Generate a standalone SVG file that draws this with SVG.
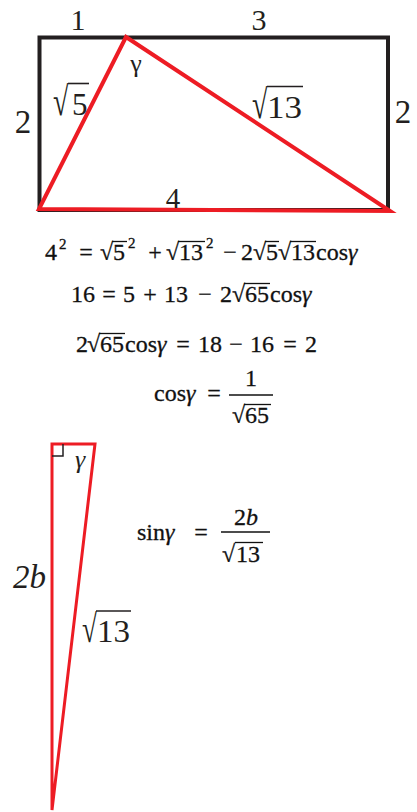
<svg xmlns="http://www.w3.org/2000/svg" width="417" height="812" viewBox="0 0 417 812">
<style>
.lbl{fill:#231f20}
.eq{font-size:24px;fill:#111;stroke:#111;stroke-width:0.3}
.sup{font-size:15px}
.it{font-style:italic}
.ov{stroke:#111;stroke-width:1.3}
.ovl{stroke:#231f20;stroke-width:1.6}
.red{fill:none;stroke:#ed1c24;stroke-linejoin:miter}
</style>
<rect width="417" height="812" fill="#fff"/>
<g id="rectangle">
<rect x="39.5" y="37.5" width="348.5" height="172.5" fill="none" stroke="#231f20" stroke-width="4"/>
</g>
<g id="triangle1">
<polygon class="red" points="126,37 39,209 390,211" stroke-width="4"/>
</g>
<g id="labels1" class="lbl" font-family="Liberation Serif, Times New Roman, serif">
<text x="78" y="30" font-size="30" text-anchor="middle">1</text>
<text x="259" y="30" font-size="30" text-anchor="middle">3</text>
<text x="23" y="133" font-size="33" text-anchor="middle">2</text>
<text x="403" y="123" font-size="33" text-anchor="middle">2</text>
<text x="136" y="72" font-size="26" text-anchor="middle">γ</text>
<text x="173" y="208" font-size="29" text-anchor="middle">4</text>
<text transform="translate(53,115) scale(1,1.45)" font-size="28">√</text>
<text x="72" y="115" font-size="31">5</text>
<line class="ovl" x1="68" y1="83.5" x2="89" y2="83.5"/>
<text transform="translate(252,118) scale(1,1.45)" font-size="28">√</text>
<text x="267" y="118" font-size="31" textLength="35" lengthAdjust="spacingAndGlyphs">13</text>
<line class="ovl" x1="267" y1="86.5" x2="303" y2="86.5"/>
</g>
<g id="eq1" class="eq" font-family="Liberation Serif, Times New Roman, serif">
<text x="45" y="260">4</text><text class="sup" x="59" y="249">2</text>
<text x="86" y="260" text-anchor="middle">=</text>
<text x="100" y="260">√</text><text x="113" y="260">5</text>
<line class="ov" x1="112" y1="241.5" x2="127" y2="241.5"/>
<text class="sup" x="128" y="248">2</text>
<text x="155" y="260" text-anchor="middle">+</text>
<text x="166" y="260">√</text><text x="179" y="260">13</text>
<line class="ov" x1="178" y1="241.5" x2="205" y2="241.5"/>
<text class="sup" x="206" y="248">2</text>
<text x="230" y="260" text-anchor="middle">−</text>
<text x="241" y="260">2</text>
<text x="253" y="260">√</text><text x="266" y="260">5</text>
<line class="ov" x1="265" y1="241.5" x2="279" y2="241.5"/>
<text x="278" y="260">√</text><text x="291" y="260">13</text>
<line class="ov" x1="290" y1="241.5" x2="316" y2="241.5"/>
<text x="316" y="260">cos<tspan class="it">γ</tspan></text>
</g>
<g id="eq2" class="eq" font-family="Liberation Serif, Times New Roman, serif">
<text x="71" y="302">16</text>
<text x="109" y="302" text-anchor="middle">=</text>
<text x="123" y="302">5</text>
<text x="150" y="302" text-anchor="middle">+</text>
<text x="164" y="302">13</text>
<text x="205" y="302" text-anchor="middle">−</text>
<text x="220" y="302">2</text>
<text x="232" y="302">√</text><text x="245" y="302">65</text>
<line class="ov" x1="244" y1="283.5" x2="270" y2="283.5"/>
<text x="270" y="302">cos<tspan class="it">γ</tspan></text>
</g>
<g id="eq3" class="eq" font-family="Liberation Serif, Times New Roman, serif">
<text x="76" y="352">2</text>
<text x="87" y="352">√</text><text x="100" y="352">65</text>
<line class="ov" x1="99" y1="333.5" x2="125" y2="333.5"/>
<text x="125" y="352">cos<tspan class="it">γ</tspan></text>
<text x="183" y="352" text-anchor="middle">=</text>
<text x="198" y="352">18</text>
<text x="236" y="352" text-anchor="middle">−</text>
<text x="250" y="352">16</text>
<text x="290" y="352" text-anchor="middle">=</text>
<text x="305" y="352">2</text>
</g>
<g id="eq4" class="eq" font-family="Liberation Serif, Times New Roman, serif">
<text x="154" y="401">cos<tspan class="it">γ</tspan></text>
<text x="214" y="401" text-anchor="middle">=</text>
<line class="ov" x1="229" y1="395" x2="273" y2="395"/>
<text x="251" y="386" text-anchor="middle">1</text>
<text x="232" y="423">√</text><text x="245" y="423">65</text>
<line class="ov" x1="244" y1="404.5" x2="271" y2="404.5"/>
</g>
<g id="triangle2">
<polygon class="red" points="52,444 95,444 52,810" stroke-width="3"/>
<polyline points="52,456 63,456 63,444" fill="none" stroke="#231f20" stroke-width="1.5"/>
</g>
<g id="labels2" class="lbl" font-family="Liberation Serif, Times New Roman, serif">
<text x="75" y="468" font-size="26" class="it">γ</text>
<text x="13" y="588" font-size="33" class="it">2b</text>
<text transform="translate(82,642) scale(1,1.45)" font-size="27">√</text>
<text x="97" y="642" font-size="31" textLength="33" lengthAdjust="spacingAndGlyphs">13</text>
<line class="ovl" x1="96" y1="611" x2="131" y2="611"/>
</g>
<g id="eq5" class="eq" font-family="Liberation Serif, Times New Roman, serif" font-size="25">
<text x="137" y="540">sin<tspan class="it">γ</tspan></text>
<text x="201" y="540" text-anchor="middle">=</text>
<line class="ov" x1="221" y1="532" x2="270" y2="532"/>
<text x="246" y="525" text-anchor="middle">2<tspan class="it">b</tspan></text>
<text x="222" y="562">√</text><text x="236" y="562">13</text>
<line class="ov" x1="235" y1="542.5" x2="263" y2="542.5"/>
</g>
</svg>
